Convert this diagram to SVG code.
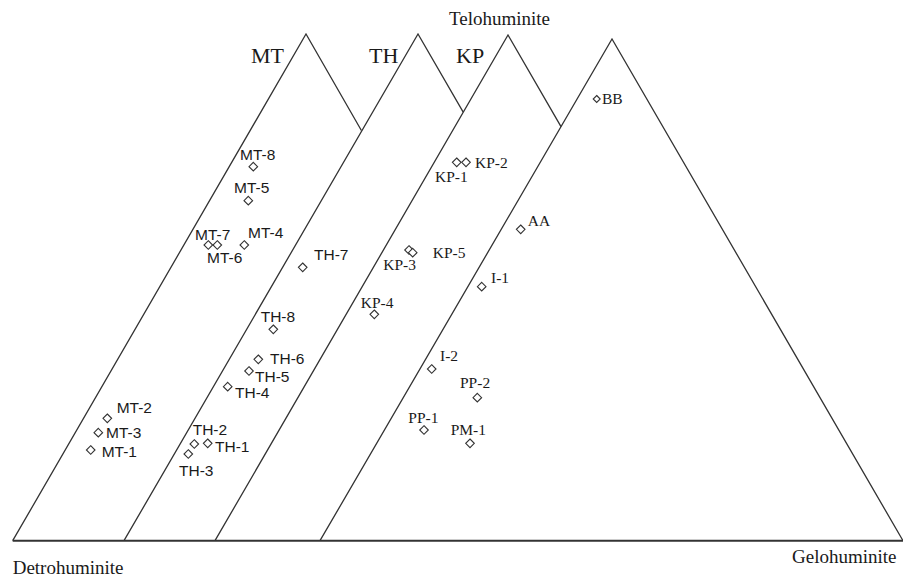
<svg xmlns="http://www.w3.org/2000/svg" xmlns:xlink="http://www.w3.org/1999/xlink" width="903" height="577" viewBox="0 0 903 577">
<style>
.ln{fill:none;stroke:#333;stroke-width:1.3}
.base{fill:none;stroke:#333;stroke-width:2}
.mk{fill:#fff;stroke:#333;stroke-width:1.1}
.s{font-family:"Liberation Sans",Arial,sans-serif;font-size:15.5px;fill:#1a1a1a}
.r{font-family:"Liberation Serif","Times New Roman",serif;font-size:15.5px;fill:#1a1a1a}
.h{font-family:"Liberation Serif","Times New Roman",serif;font-size:22px;fill:#1a1a1a}
.ax{font-family:"Liberation Serif","Times New Roman",serif;font-size:19px;fill:#1a1a1a}
</style>
<defs>
<path id="d" d="M0,-4.3 L4.3,0 L0,4.3 L-4.3,0Z"/>
<path id="ds" d="M0,-3.5 L3.5,0 L0,3.5 L-3.5,0Z"/>
</defs>
<rect width="903" height="577" fill="#fff"/>
<g id="connectors">
<path class="ln" d="M12.7,540.7 L306,34 L361.4,130.5"/>
<path class="ln" d="M124,540.7 L418,34 L463.2,112.1"/>
<path class="ln" d="M215,540.7 L508,35 L561,126.6"/>
<path class="ln" d="M320,540.7 L612,39 L903,540.7"/>
<path class="base" d="M12.7,540.7 H903"/>
</g>
<g id="titles">
<text class="h" x="251" y="63">MT</text>
<text class="h" x="369" y="63">TH</text>
<text class="h" x="456" y="63">KP</text>
<text class="ax" x="449" y="25">Telohuminite</text>
<text class="ax" x="12.7" y="574">Detrohuminite</text>
<text class="ax" x="792" y="563">Gelohuminite</text>
</g>
<g id="MT-8"><use href="#d" class="mk" x="253.3" y="166.7"/><text class="s" x="240" y="160">MT-8</text></g>
<g id="MT-5"><use href="#d" class="mk" x="248.3" y="200.7"/><text class="s" x="234" y="193">MT-5</text></g>
<g id="MT-7"><use href="#d" class="mk" x="208.3" y="245"/><text class="s" x="195" y="240">MT-7</text></g>
<g id="MT-6"><use href="#d" class="mk" x="217.3" y="245"/><text class="s" x="207" y="263">MT-6</text></g>
<g id="MT-4"><use href="#d" class="mk" x="244.3" y="245"/><text class="s" x="248" y="238">MT-4</text></g>
<g id="TH-7"><use href="#d" class="mk" x="302.7" y="267.3"/><text class="s" x="314" y="260">TH-7</text></g>
<g id="TH-8"><use href="#d" class="mk" x="273.3" y="329.3"/><text class="s" x="260.7" y="321.7">TH-8</text></g>
<g id="TH-6"><use href="#d" class="mk" x="258.3" y="359.3"/><text class="s" x="270" y="364">TH-6</text></g>
<g id="TH-5"><use href="#d" class="mk" x="249" y="371"/><text class="s" x="255" y="381.7">TH-5</text></g>
<g id="TH-4"><use href="#d" class="mk" x="227.7" y="386.7"/><text class="s" x="235" y="398.3">TH-4</text></g>
<g id="MT-2"><use href="#d" class="mk" x="107.3" y="418.3"/><text class="s" x="116.7" y="413.3">MT-2</text></g>
<g id="MT-3"><use href="#d" class="mk" x="98.3" y="432.7"/><text class="s" x="106" y="438.3">MT-3</text></g>
<g id="MT-1"><use href="#d" class="mk" x="90.7" y="450"/><text class="s" x="101.7" y="456.7">MT-1</text></g>
<g id="TH-2"><use href="#d" class="mk" x="194.3" y="444"/><text class="s" x="192.7" y="435">TH-2</text></g>
<g id="TH-1"><use href="#d" class="mk" x="207.7" y="443.3"/><text class="s" x="215" y="451.7">TH-1</text></g>
<g id="TH-3"><use href="#d" class="mk" x="188.3" y="454"/><text class="s" x="179" y="476">TH-3</text></g>
<g id="KP-1"><use href="#d" class="mk" x="456.7" y="162.3"/><text class="r" x="435" y="181.7">KP-1</text></g>
<g id="KP-2"><use href="#d" class="mk" x="466" y="162.3"/><text class="r" x="475" y="168">KP-2</text></g>
<g id="AA"><use href="#d" class="mk" x="520.7" y="229.3"/><text class="r" x="527.7" y="226">AA</text></g>
<g id="KP-3"><use href="#d" class="mk" x="409" y="250"/><text class="r" x="383.3" y="270">KP-3</text></g>
<g id="KP-5"><use href="#d" class="mk" x="412.7" y="252.7"/><text class="r" x="432.7" y="258.3">KP-5</text></g>
<g id="I-1"><use href="#d" class="mk" x="481.7" y="286.7"/><text class="r" x="491" y="283.3">I-1</text></g>
<g id="KP-4"><use href="#d" class="mk" x="374.3" y="314.3"/><text class="r" x="360.7" y="308.3">KP-4</text></g>
<g id="I-2"><use href="#d" class="mk" x="431.7" y="369"/><text class="r" x="440" y="360.7">I-2</text></g>
<g id="PP-2"><use href="#d" class="mk" x="477.3" y="397.7"/><text class="r" x="460" y="388.3">PP-2</text></g>
<g id="PP-1"><use href="#d" class="mk" x="424" y="430"/><text class="r" x="408.3" y="422.7">PP-1</text></g>
<g id="PM-1"><use href="#d" class="mk" x="470" y="443.3"/><text class="r" x="450.7" y="435">PM-1</text></g>
<g id="BB"><use href="#ds" class="mk" x="596.7" y="99"/><text class="r" x="602" y="103.5">BB</text></g>
</svg>
